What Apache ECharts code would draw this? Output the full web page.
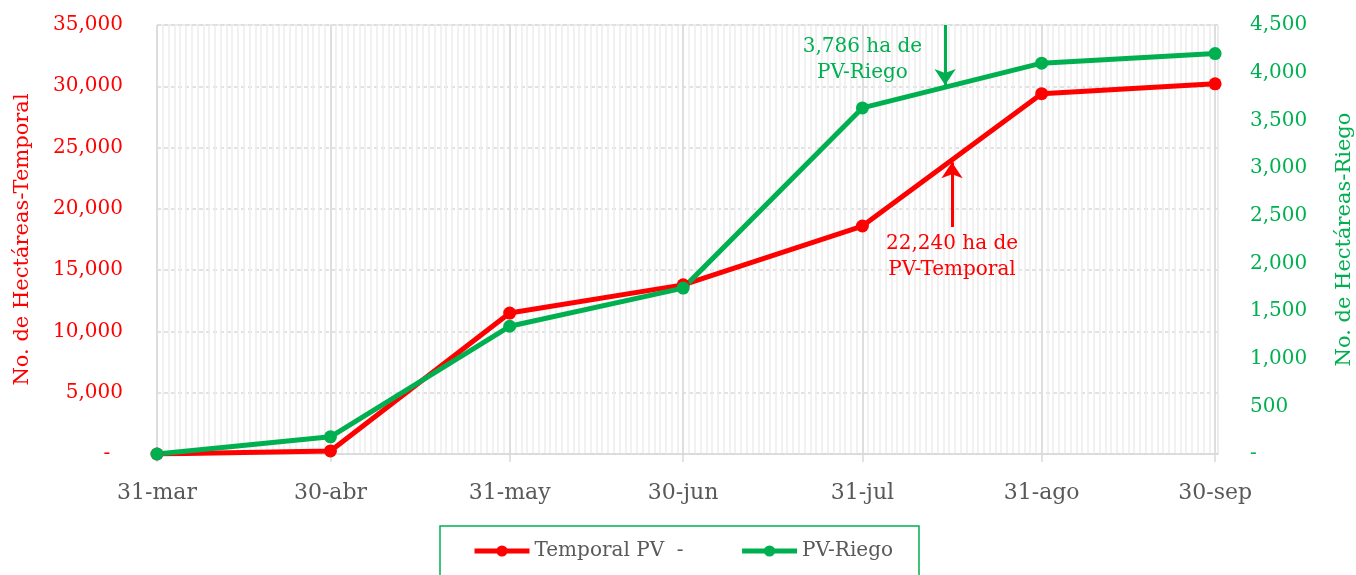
<!DOCTYPE html>
<html>
<head>
<meta charset="utf-8">
<title>Hectáreas PV</title>
<script src="https://cdn.jsdelivr.net/npm/echarts@6/dist/echarts.min.js"></script>
<style>
  html, body { margin: 0; padding: 0; background: #fff; }
  #chart { width: 1356px; height: 575px; }
</style>
</head>
<body>
<div id="chart"></div>
<script>
// ---------------- datos ----------------
var fechas = ['2021-03-31', '2021-04-30', '2021-05-31', '2021-06-30', '2021-07-31', '2021-08-31', '2021-09-30'];
var etiquetas = ['31-mar', '30-abr', '31-may', '30-jun', '31-jul', '31-ago', '30-sep'];
var temporal = [0, 250, 11500, 13800, 18600, 29400, 30200];
var riego = [0, 180, 1340, 1740, 3630, 4100, 4200];

// anotaciones (día desde 31-mar, valor)
var notaRiego = { texto: '3,786 ha de\nPV-Riego', dia: 122, valor: 4140, flecha: [136.3, 4500, 3871] };
var notaTemporal = { texto: '22,240 ha de\nPV-Temporal', dia: 137.5, valor: 16100, flecha: [137.5, 18520, 23800] };
// ---------------------------------------

var ROJO = '#ff0000';
var VERDE = '#00b050';
var GRIS = '#595959';
var FUENTE = 'DejaVu Serif';

var t0 = Date.parse(fechas[0]);
var dias = fechas.map(function (f) { return Math.round((Date.parse(f) - t0) / 864e5); });

function miles(v) {
  return v === 0 ? '-' : v.toLocaleString('en-US');
}

var chart = echarts.init(document.getElementById('chart'));

var option = {
  animation: false,
  textStyle: { fontFamily: FUENTE },
  grid: {
    left: 157, right: 138, top: 25, bottom: 121,
    show: true, borderColor: '#d9d9d9', borderWidth: 1,
    outerBoundsMode: 'none'
  },
  legend: {
    top: 526,
    left: 440,
    data: ['Temporal PV  -', 'PV-Riego'],
    borderColor: VERDE,
    borderWidth: 1.5,
    padding: [15, 26, 40, 32],
    itemWidth: 55,
    itemHeight: 14,
    itemGap: 56,
    lineStyle: { width: 5 },
    textStyle: { color: GRIS, fontSize: 20, fontFamily: FUENTE }
  },
  xAxis: [
    {
      // líneas diarias
      type: 'value', min: 0, max: 183.5, interval: 1,
      axisLine: { show: false }, axisTick: { show: false }, axisLabel: { show: false },
      splitLine: { show: true, lineStyle: { color: '#ececec', width: 1.5 } }
    },
    {
      type: 'value', min: 0, max: 183.5, position: 'bottom', offset: 0,
      axisLine: { show: true, lineStyle: { color: '#d9d9d9', width: 1.5 } },
      axisTick: { show: true, customValues: dias, length: 8, lineStyle: { color: '#d9d9d9', width: 1.5 } },
      axisLabel: {
        customValues: dias,
        margin: 28,
        color: GRIS, fontSize: 22, fontFamily: FUENTE,
        formatter: function (v) { var i = dias.indexOf(v); return i >= 0 ? etiquetas[i] : ''; }
      },
      splitLine: { show: true, lineStyle: { color: '#d9d9d9', width: 1.5 } }
    }
  ],
  yAxis: [
    {
      type: 'value', min: 0, max: 35000, interval: 5000,
      name: 'No. de Hectáreas-Temporal',
      nameLocation: 'middle', nameGap: 124,
      nameTextStyle: { color: ROJO, fontSize: 21, fontFamily: FUENTE },
      axisLine: { show: false }, axisTick: { show: false },
      axisLabel: {
        color: ROJO, fontSize: 20, margin: 34, fontFamily: FUENTE,
        formatter: function (v) { return v === 0 ? '-  ' : miles(v); }
      },
      splitLine: { show: true, lineStyle: { color: '#d9d9d9', type: [4, 3], width: 1.5 } }
    },
    {
      type: 'value', min: 0, max: 4500, interval: 500,
      position: 'right', alignTicks: false,
      name: 'No. de Hectáreas-Riego',
      nameLocation: 'middle', nameGap: 116,
      nameTextStyle: { color: VERDE, fontSize: 21, fontFamily: FUENTE },
      axisLine: { show: false }, axisTick: { show: false },
      axisLabel: { color: VERDE, fontSize: 20, margin: 32, fontFamily: FUENTE, formatter: miles },
      splitLine: { show: false }
    }
  ],
  series: [
    {
      name: 'Temporal PV  -',
      type: 'line',
      xAxisIndex: 1, yAxisIndex: 0,
      data: dias.map(function (d, i) { return [d, temporal[i]]; }),
      symbol: 'circle', symbolSize: 13,
      lineStyle: { color: ROJO, width: 5 },
      itemStyle: { color: ROJO },
      markLine: {
        silent: true, symbol: ['none', 'arrow'], symbolSize: 16,
        lineStyle: { color: ROJO, width: 3, type: 'solid' },
        label: { show: false },
        data: [[
          { coord: [notaTemporal.flecha[0], notaTemporal.flecha[1]] },
          { coord: [notaTemporal.flecha[0], notaTemporal.flecha[2]] }
        ]]
      },
      markPoint: {
        silent: true, symbol: 'circle', symbolSize: 0,
        label: {
          show: true, position: 'inside', color: ROJO, fontSize: 20, lineHeight: 26,
          fontFamily: FUENTE, formatter: function () { return notaTemporal.texto; }
        },
        data: [{ coord: [notaTemporal.dia, notaTemporal.valor] }]
      }
    },
    {
      name: 'PV-Riego',
      type: 'line',
      xAxisIndex: 1, yAxisIndex: 1,
      data: dias.map(function (d, i) { return [d, riego[i]]; }),
      symbol: 'circle', symbolSize: 13,
      lineStyle: { color: VERDE, width: 5 },
      itemStyle: { color: VERDE },
      markLine: {
        silent: true, symbol: ['none', 'arrow'], symbolSize: 16,
        lineStyle: { color: VERDE, width: 3, type: 'solid' },
        label: { show: false },
        data: [[
          { coord: [notaRiego.flecha[0], notaRiego.flecha[1]] },
          { coord: [notaRiego.flecha[0], notaRiego.flecha[2]] }
        ]]
      },
      markPoint: {
        silent: true, symbol: 'circle', symbolSize: 0,
        label: {
          show: true, position: 'inside', color: VERDE, fontSize: 20, lineHeight: 26,
          fontFamily: FUENTE, formatter: function () { return notaRiego.texto; }
        },
        data: [{ coord: [notaRiego.dia, notaRiego.valor] }]
      }
    }
  ]
};

chart.setOption(option);
</script>
</body>
</html>
